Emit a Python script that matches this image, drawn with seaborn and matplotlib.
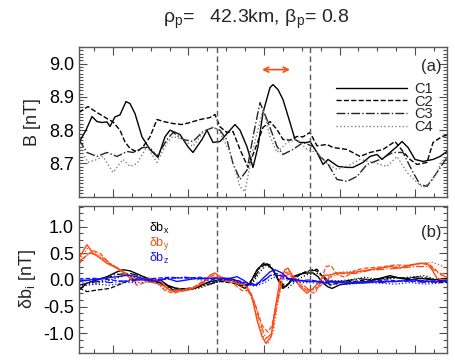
import numpy as np
import matplotlib
matplotlib.use('Agg')
import matplotlib.pyplot as plt
from matplotlib.ticker import MultipleLocator, FixedLocator
from matplotlib.lines import Line2D
import seaborn as sns

# ---- panel (a): |B| for the four spacecraft (t in arbitrary time units) ----
t_c1 = [79, 86, 92, 97, 102, 107, 110, 115, 120, 126, 130, 135, 142, 150, 158, 165, 170, 180, 188, 193,
        202, 207, 213, 220, 230, 235, 240, 247, 253, 258, 263, 270, 273, 278, 283, 290, 295, 300, 307, 310,
        317, 323, 328, 338, 347, 353, 363, 370, 377, 382, 390, 397, 402, 408, 415, 423, 433, 440, 447]
b_c1 = [8.763, 8.80, 8.841, 8.826, 8.823, 8.825, 8.811, 8.84, 8.846, 8.886, 8.88, 8.85, 8.78, 8.742, 8.718, 8.78, 8.80, 8.787, 8.75, 8.733,
        8.772, 8.80, 8.763, 8.766, 8.80, 8.817, 8.80, 8.75, 8.688, 8.75, 8.853, 8.928, 8.937, 8.922, 8.892, 8.823, 8.772, 8.763, 8.763, 8.766,
        8.733, 8.697, 8.712, 8.691, 8.688, 8.688, 8.703, 8.721, 8.727, 8.712, 8.733, 8.751, 8.766, 8.748, 8.712, 8.706, 8.712, 8.721, 8.736]

t_c2 = [79, 88, 97, 107, 113, 120, 125, 130, 137, 143, 150, 157, 165, 173, 182, 190, 200, 210, 215, 220,
        227, 233, 240, 248, 255, 263, 270, 277, 283, 290, 297, 303, 310, 317, 327, 333, 347, 360, 370, 383,
        395, 403, 410, 417, 427, 433, 442, 447]
b_c2 = [8.853, 8.871, 8.853, 8.835, 8.825, 8.80, 8.765, 8.745, 8.735, 8.75, 8.78, 8.832, 8.825, 8.82, 8.817, 8.823, 8.832, 8.838, 8.847, 8.81,
        8.793, 8.796, 8.742, 8.688, 8.742, 8.808, 8.826, 8.802, 8.772, 8.77, 8.781, 8.78, 8.793, 8.753, 8.757, 8.748, 8.742, 8.721, 8.733, 8.742,
        8.766, 8.736, 8.712, 8.697, 8.703, 8.763, 8.781, 8.785]

t_c3 = [79, 87, 97, 107, 117, 127, 133, 143, 150, 157, 167, 173, 183, 193, 203, 213, 220, 227, 233, 240,
        247, 253, 260, 267, 277, 283, 293, 303, 313, 320, 327, 337, 347, 357, 367, 380, 393, 403, 413, 420,
        427, 437, 447]
b_c3 = [8.772, 8.733, 8.721, 8.733, 8.721, 8.736, 8.733, 8.748, 8.748, 8.721, 8.772, 8.793, 8.772, 8.766, 8.796, 8.808, 8.80, 8.77, 8.70, 8.652,
        8.68, 8.78, 8.883, 8.832, 8.751, 8.727, 8.742, 8.763, 8.751, 8.72, 8.703, 8.652, 8.646, 8.661, 8.697, 8.712, 8.733, 8.733, 8.673, 8.637,
        8.631, 8.673, 8.718]

t_c4 = [79, 88, 97, 103, 113, 123, 130, 137, 147, 157, 167, 173, 183, 193, 203, 213, 220, 230, 240, 245,
        253, 263, 270, 277, 287, 297, 307, 317, 327, 337, 347, 360, 373, 387, 397, 407, 417, 423, 433, 442, 447]
b_c4 = [8.751, 8.703, 8.712, 8.721, 8.673, 8.712, 8.691, 8.70, 8.751, 8.703, 8.763, 8.781, 8.772, 8.751, 8.793, 8.811, 8.793, 8.733, 8.63, 8.615,
        8.742, 8.862, 8.781, 8.733, 8.763, 8.772, 8.742, 8.733, 8.70, 8.682, 8.691, 8.712, 8.703, 8.691, 8.721, 8.673, 8.643, 8.627, 8.652, 8.706, 8.72]

# ---- panel (b): delta b components, one curve per spacecraft ----
t_bx1 = [79, 87, 97, 107, 117, 123, 130, 140, 150, 160, 167, 173, 183, 193, 203, 210, 220, 233, 238, 245,
         250, 257, 263, 268, 273, 278, 283, 288, 293, 300, 307, 313, 318, 323, 328, 332, 340, 353, 367, 380,
         390, 400, 410, 420, 433, 447]
bx1 = [-0.19, -0.06, 0.0, 0.06, 0.15, 0.19, 0.17, 0.09, 0.0, 0.0, -0.09, -0.19, -0.19, -0.17, -0.09, -0.03, 0.0, 0.0, -0.09, -0.16,
       -0.06, 0.19, 0.30, 0.28, 0.19, 0.0, -0.16, -0.09, 0.06, 0.11, 0.13, 0.13, 0.06, -0.06, -0.13, -0.16, -0.09, -0.06, -0.03, 0.03,
       0.08, 0.03, 0.0, 0.03, 0.0, 0.03]
t_bx2 = [79, 87, 97, 110, 123, 133, 143, 155, 167, 180, 193, 205, 220, 233, 245, 252, 258, 264, 270, 276,
         283, 290, 300, 310, 317, 323, 330, 340, 353, 367, 380, 395, 410, 425, 440, 447]
bx2 = [-0.15, -0.22, -0.19, -0.16, -0.06, 0.03, 0.0, -0.03, -0.13, -0.17, -0.15, -0.06, -0.03, -0.06, -0.12, 0.0, 0.20, 0.32, 0.28, 0.10,
       -0.13, -0.05, 0.10, 0.18, 0.20, 0.05, -0.10, -0.05, -0.03, 0.0, 0.02, 0.05, 0.02, -0.02, -0.05, -0.05]
t_bx3 = [79, 90, 100, 115, 130, 145, 160, 175, 190, 205, 220, 235, 245, 252, 260, 266, 272, 280, 286, 295,
         305, 315, 322, 330, 345, 360, 375, 390, 405, 420, 435, 447]
bx3 = [-0.10, -0.05, -0.03, 0.10, 0.12, 0.05, -0.05, -0.15, -0.18, -0.10, -0.03, 0.0, -0.10, -0.05, 0.22, 0.30, 0.22, -0.05, -0.12, 0.05,
       0.15, 0.18, 0.10, -0.05, -0.02, 0.02, 0.0, 0.05, 0.03, 0.06, 0.0, -0.02]
t_bx4 = [79, 95, 110, 125, 140, 155, 170, 185, 200, 215, 230, 242, 252, 260, 266, 273, 281, 288, 297, 307,
         318, 327, 337, 350, 365, 380, 395, 410, 425, 440, 447]
bx4 = [-0.12, -0.08, 0.0, 0.08, 0.03, -0.05, -0.12, -0.20, -0.15, -0.05, 0.02, -0.10, -0.08, 0.15, 0.27, 0.20, -0.05, -0.15, 0.0, 0.10,
       0.12, 0.0, -0.02, 0.0, 0.05, 0.0, 0.03, 0.05, 0.08, -0.02, -0.05]

t_by1 = [79, 87, 93, 100, 107, 117, 127, 133, 140, 150, 160, 167, 173, 183, 193, 203, 210, 215, 220, 230,
         240, 247, 252, 257, 262, 266, 271, 275, 280, 285, 288, 293, 300, 307, 313, 318, 325, 330, 337, 347,
         357, 370, 380, 390, 400, 410, 420, 427, 432, 437, 443, 447]
by1 = [0.41, 0.66, 0.50, 0.41, 0.31, 0.22, 0.09, -0.03, 0.0, 0.03, 0.0, -0.16, -0.22, -0.19, -0.16, -0.06, 0.09, 0.13, 0.06, 0.0,
       -0.06, -0.13, -0.31, -0.75, -1.06, -1.19, -1.06, -0.56, 0.0, 0.19, 0.22, 0.06, -0.13, -0.25, -0.16, -0.06, 0.09, 0.09, 0.13, 0.13,
       0.15, 0.19, 0.22, 0.25, 0.22, 0.28, 0.31, 0.31, 0.19, 0.03, 0.0, 0.0]
t_by2 = [79, 86, 93, 100, 110, 120, 130, 137, 145, 155, 165, 173, 185, 195, 205, 213, 222, 232, 242, 250,
         256, 262, 268, 272, 277, 282, 286, 292, 300, 307, 315, 320, 326, 331, 337, 345, 355, 365, 380, 395,
         410, 420, 430, 440, 447]
by2 = [0.30, 0.45, 0.55, 0.50, 0.30, 0.20, 0.05, -0.10, -0.05, 0.0, -0.20, -0.25, -0.20, -0.12, 0.0, 0.08, 0.0, -0.05, -0.20, -0.20,
       -0.50, -0.85, -0.98, -0.85, -0.40, 0.02, 0.15, 0.05, -0.10, -0.20, -0.25, -0.05, 0.25, 0.27, 0.10, 0.05, 0.18, 0.22, 0.24, 0.28,
       0.27, 0.31, 0.28, 0.12, 0.10]
t_by3 = [79, 90, 100, 115, 130, 145, 160, 172, 190, 205, 215, 230, 245, 254, 260, 266, 272, 277, 283, 290,
         300, 310, 320, 330, 340, 355, 370, 385, 400, 415, 430, 440, 447]
by3 = [0.35, 0.50, 0.45, 0.25, 0.08, -0.02, -0.08, -0.20, -0.18, -0.02, 0.05, -0.03, -0.10, -0.40, -0.80, -1.10, -1.00, -0.45, 0.05, 0.12,
       -0.05, -0.20, -0.12, 0.05, 0.12, 0.12, 0.18, 0.20, 0.22, 0.25, 0.25, 0.10, 0.05]
t_by4 = [79, 88, 95, 105, 120, 135, 150, 165, 178, 192, 205, 213, 225, 238, 250, 257, 263, 268, 273, 278,
         284, 289, 297, 305, 313, 322, 332, 345, 360, 375, 390, 405, 420, 432, 440, 447]
by4 = [0.38, 0.60, 0.52, 0.35, 0.18, 0.0, 0.02, -0.18, -0.22, -0.17, -0.05, 0.10, 0.02, -0.08, -0.25, -0.70, -1.05, -1.20, -1.00, -0.40,
       0.12, 0.15, 0.0, -0.18, -0.20, -0.05, 0.12, 0.15, 0.17, 0.20, 0.26, 0.25, 0.30, 0.33, 0.28, 0.20]

t_bz1 = [79, 90, 103, 117, 127, 137, 147, 157, 167, 177, 187, 197, 210, 220, 230, 237, 243, 250, 257, 263,
         270, 275, 282, 288, 297, 307, 317, 327, 330, 347, 363, 380, 397, 413, 427, 440, 447]
bz1 = [-0.03, 0.0, 0.03, 0.06, 0.09, 0.06, 0.0, -0.03, 0.03, -0.03, 0.0, 0.03, 0.03, 0.03, 0.03, 0.06, 0.0, -0.09, -0.09, 0.03,
       0.15, 0.19, 0.13, 0.03, 0.0, -0.03, -0.03, -0.06, -0.03, -0.06, -0.06, -0.03, -0.03, 0.0, -0.03, -0.03, 0.0]
t_bz2 = [79, 95, 110, 125, 140, 155, 170, 185, 200, 215, 230, 245, 255, 263, 270, 277, 285, 295, 310, 325,
         340, 355, 370, 385, 400, 415, 430, 447]
bz2 = [0.02, 0.03, 0.0, -0.03, 0.0, 0.03, 0.05, 0.03, 0.05, 0.0, 0.03, -0.05, -0.08, -0.02, 0.08, 0.12, 0.05, -0.02, 0.0, -0.05,
       -0.03, -0.05, -0.03, 0.0, -0.02, -0.03, -0.02, -0.03]
t_bz3 = [79, 95, 110, 125, 140, 155, 170, 185, 200, 215, 230, 245, 255, 265, 272, 280, 290, 305, 320, 335,
         350, 365, 380, 395, 410, 425, 447]
bz3 = [0.0, -0.02, -0.05, -0.02, 0.02, 0.0, 0.03, 0.05, 0.02, 0.03, 0.0, -0.06, -0.10, 0.0, 0.10, 0.08, 0.0, -0.02, -0.03, -0.02,
       -0.05, -0.03, -0.05, -0.03, -0.02, -0.05, -0.02]
t_bz4 = [79, 95, 110, 125, 140, 155, 170, 185, 200, 215, 230, 245, 255, 265, 273, 282, 292, 305, 320, 335,
         350, 365, 380, 395, 410, 425, 440, 447]
bz4 = [-0.05, -0.08, -0.10, -0.05, -0.05, -0.02, 0.02, 0.05, 0.0, -0.02, 0.0, -0.08, -0.12, -0.05, 0.05, 0.03, -0.03, -0.05, -0.06, -0.08,
       -0.08, -0.05, -0.06, -0.08, -0.05, -0.08, -0.06, -0.03]

# boundaries (dashed) and the arrow interval
t_bounds = [217, 310]
t_arrow = [262, 290]
b_arrow = 8.982

sns.set_style('ticks')
plt.rcParams['font.family'] = ['Liberation Sans', 'DejaVu Sans']
plt.rcParams['mathtext.fontset'] = 'custom'
plt.rcParams['mathtext.rm'] = 'Liberation Sans'
plt.rcParams['mathtext.it'] = 'Liberation Sans'

RED = '#ff4a14'
BLUE = '#1010ff'
styles = ['-', '--', '-.', ':']

fig = plt.figure(figsize=(4.56, 3.6), dpi=100)
ax1 = fig.add_axes([0.1732, 0.4536, 0.8071, 0.4158])
ax2 = fig.add_axes([0.1732, 0.0194, 0.8071, 0.4092])

top_t = [t_c1, t_c2, t_c3, t_c4]
top_b = [b_c1, b_c2, b_c3, b_c4]
top_col = ['black', 'black', '0.15', '0.5']
labels = ['C1', 'C2', 'C3', 'C4']
for tt, bb, ls, c, lab in zip(top_t, top_b, styles, top_col, labels):
    sns.lineplot(x=tt, y=bb, ax=ax1, color=c, linestyle=ls, linewidth=1.0, estimator=None, sort=False)

handles = [Line2D([], [], color=c, linestyle=ls, linewidth=1.0) for c, ls in zip(top_col, styles)]
ax1.legend(handles, labels, loc='center right', bbox_to_anchor=(0.962, 0.593), frameon=False,
           handlelength=4.9, handletextpad=0.5, labelspacing=-0.08, fontsize=10.5,
           borderpad=0, borderaxespad=0)

ax1.annotate('', xy=(t_arrow[0], b_arrow), xytext=(t_arrow[1], b_arrow),
             arrowprops=dict(arrowstyle='<->', color=RED, lw=1.2, shrinkA=0, shrinkB=0,
                             mutation_scale=9))

bot = [(t_bx1, bx1, t_bx2, bx2, t_bx3, bx3, t_bx4, bx4, 'black'),
       (t_by1, by1, t_by2, by2, t_by3, by3, t_by4, by4, RED),
       (t_bz1, bz1, t_bz2, bz2, t_bz3, bz3, t_bz4, bz4, BLUE)]
for row in bot:
    col = row[-1]
    for k in range(4):
        sns.lineplot(x=row[2 * k], y=row[2 * k + 1], ax=ax2, color=col, linestyle=styles[k],
                     linewidth=1.0 if k == 0 else 0.9, estimator=None, sort=False)

for ax in (ax1, ax2):
    for tb in t_bounds:
        ax.axvline(tb, color='0.35', linestyle=(0, (4, 2.5)), linewidth=1.0)
    ax.set_xlim(79, 447)
    ax.xaxis.set_major_locator(FixedLocator(np.arange(113, 447, 75.5)))
    ax.xaxis.set_minor_locator(FixedLocator(np.arange(113 - 4 * 18.875, 447, 18.875)))
    ax.set_xticklabels([])
    ax.tick_params(which='both', direction='in', top=True, right=True, colors='0.3',
                   labelcolor='black', labelsize=13)
    ax.tick_params(which='major', length=6, width=0.8)
    ax.tick_params(which='minor', length=3, width=0.8)
    for s in ax.spines.values():
        s.set_color('0.35')
        s.set_linewidth(1.0)
    ax.set_xlabel('')

ax1.set_ylim(8.6, 9.05)
ax1.set_yticks([8.7, 8.8, 8.9, 9.0])
ax1.yaxis.set_minor_locator(MultipleLocator(0.01))
ax1.set_yticklabels(['8.7', '8.8', '8.9', '9.0'])
ax1.set_ylabel('B [nT]', fontsize=13, labelpad=6)
ax1.text(0.985, 0.87, '(a)', transform=ax1.transAxes, ha='right', va='center', fontsize=12)

ax2.set_ylim(-1.37, 1.39)
ax2.set_yticks([-1.0, -0.5, 0.0, 0.5, 1.0])
ax2.set_yticklabels(['-1.0', '-0.5', '0.0', '0.5', '1.0'])
ax2.yaxis.set_minor_locator(MultipleLocator(0.125))
ax2.set_ylabel(r'$\mathregular{\delta b_i}$ [nT]', fontsize=13, labelpad=4)
ax2.text(0.985, 0.82, '(b)', transform=ax2.transAxes, ha='right', va='center', fontsize=12)
ax2.text(0.19, 0.845, r'$\mathregular{\delta b_x}$', transform=ax2.transAxes, color='black', fontsize=9, va='center')
ax2.text(0.19, 0.745, r'$\mathregular{\delta b_y}$', transform=ax2.transAxes, color=RED, fontsize=9, va='center')
ax2.text(0.19, 0.645, r'$\mathregular{\delta b_z}$', transform=ax2.transAxes, color=BLUE, fontsize=9, va='center')

fig.text(0.562, 0.945, r'$\mathregular{\rho_p}$=   42.3km, $\mathregular{\beta_p}$= 0.8',
         ha='center', va='center', fontsize=14)

fig.savefig('out.png', dpi=100)
